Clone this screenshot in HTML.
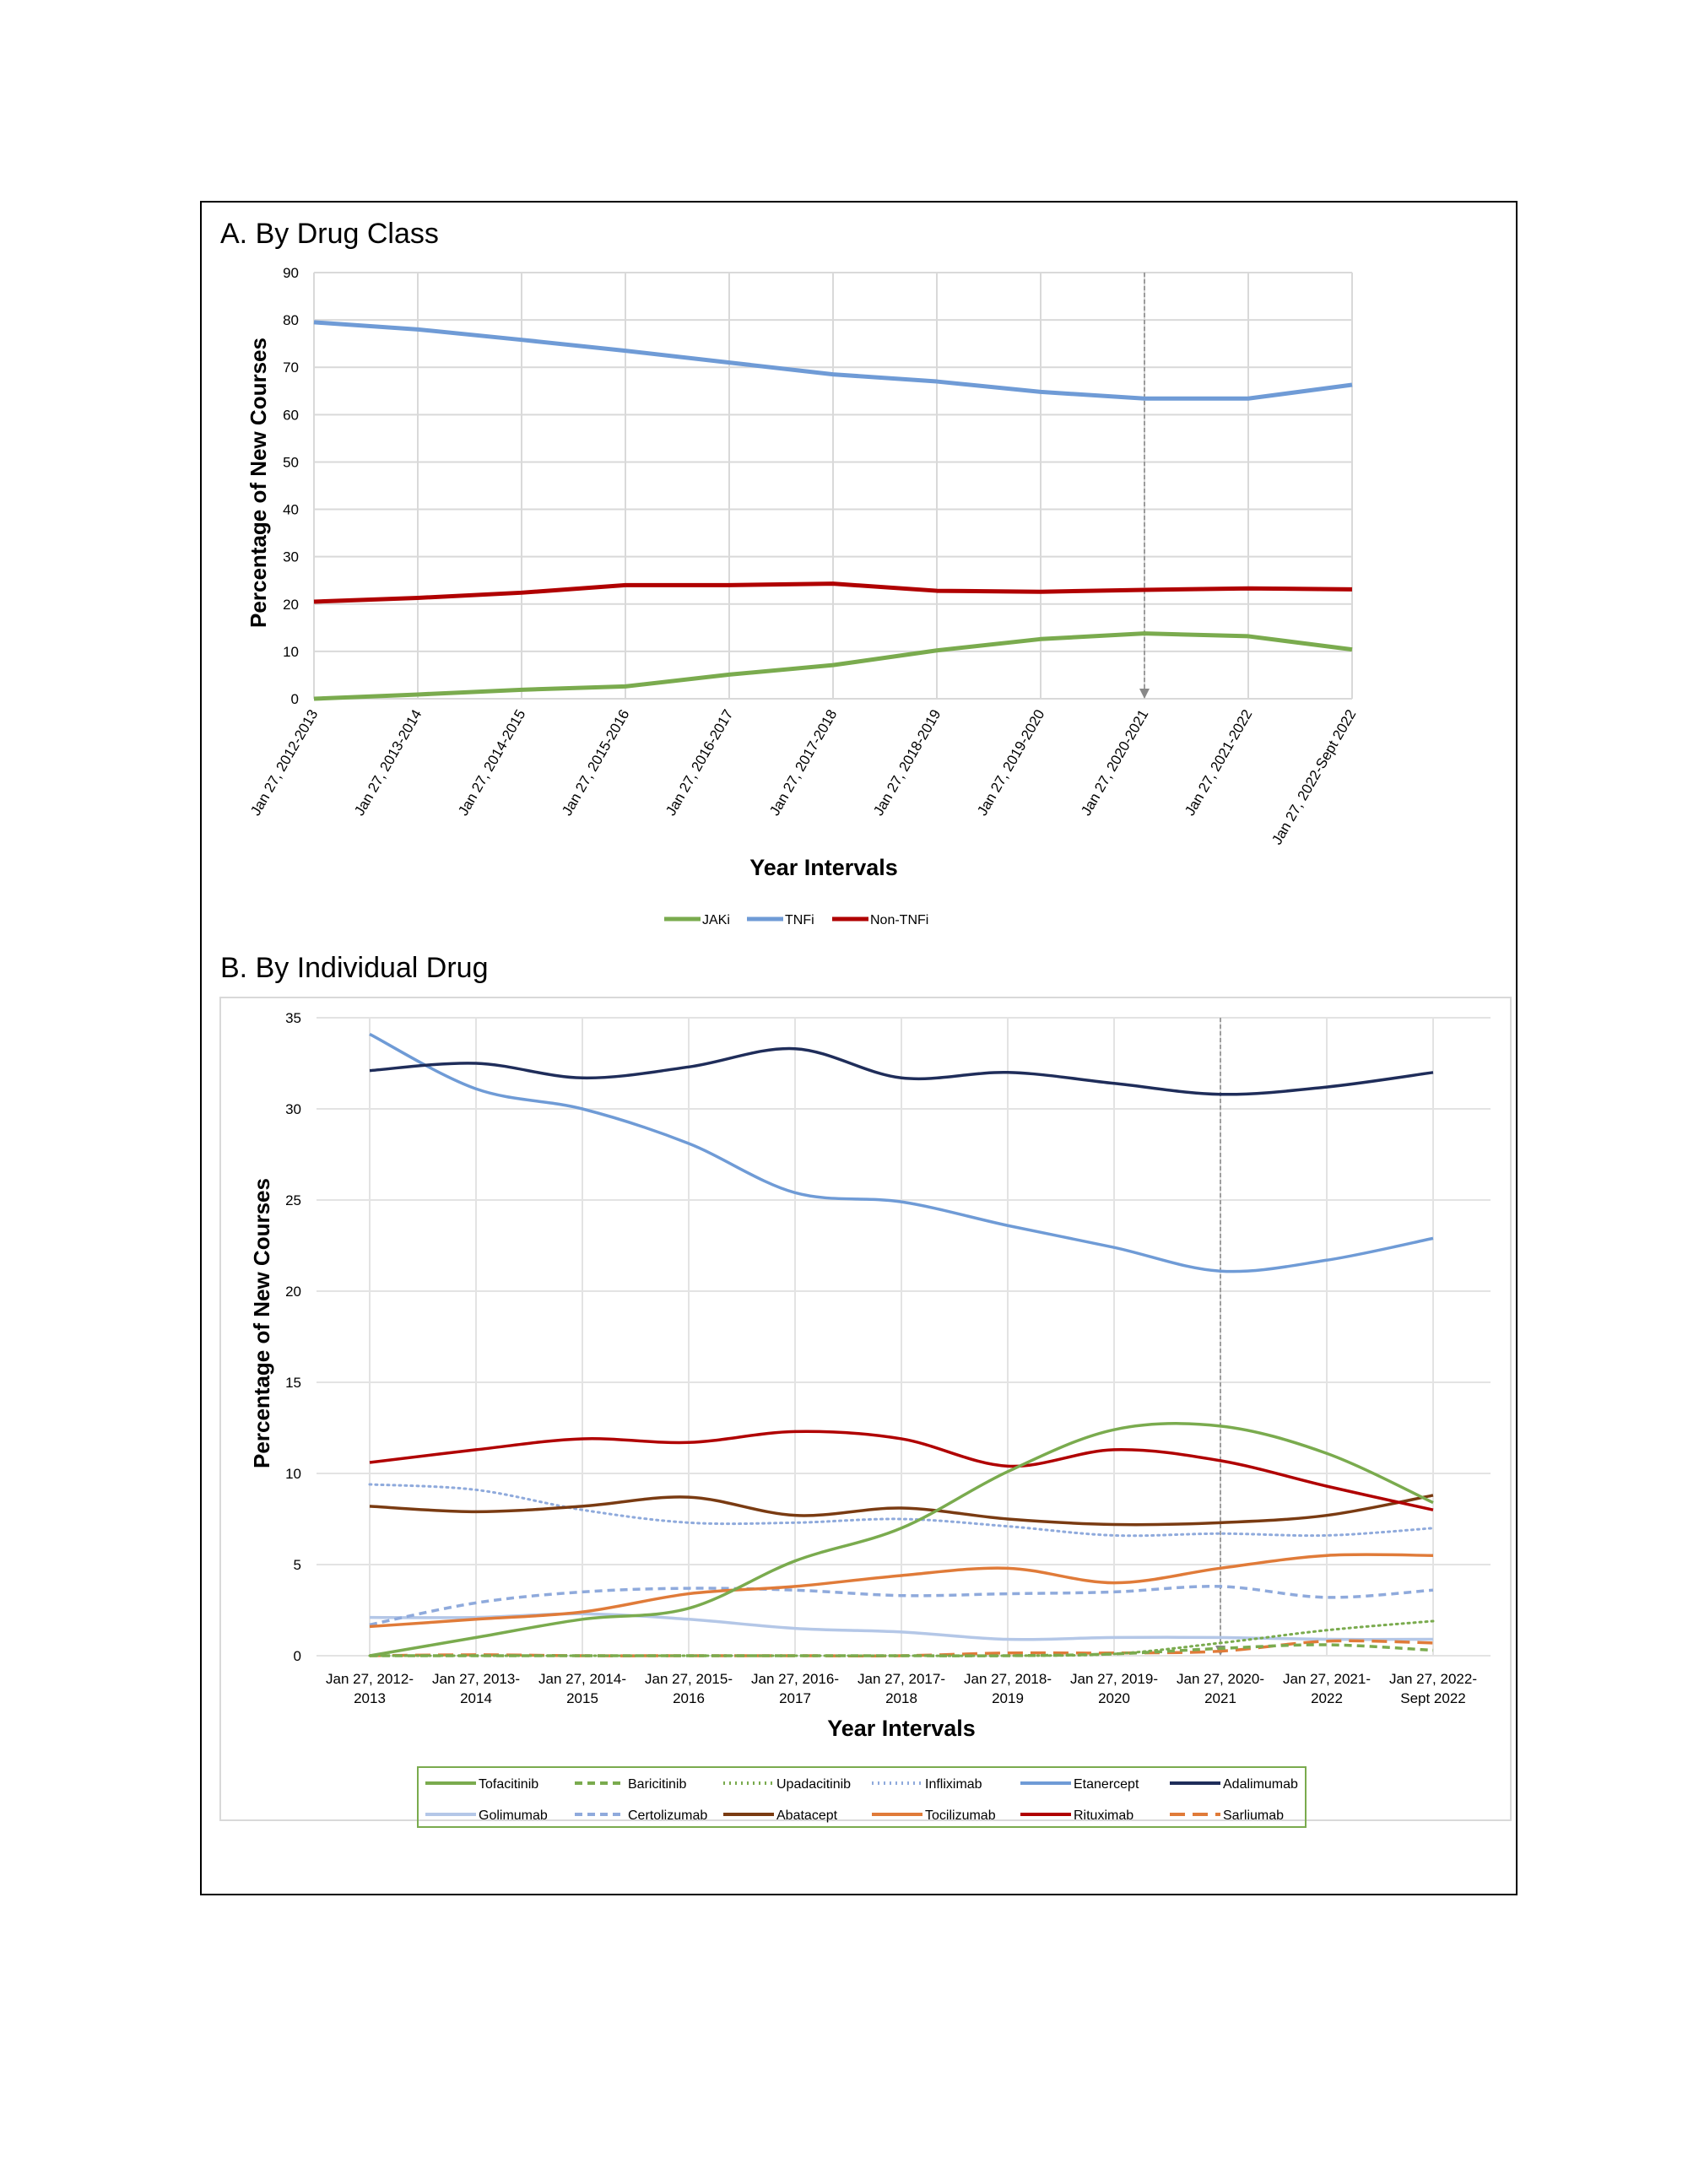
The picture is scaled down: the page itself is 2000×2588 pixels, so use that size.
<!DOCTYPE html>
<html><head><meta charset="utf-8"><style>
body{margin:0;background:#fff;}
svg{display:block;font-family:"Liberation Sans",sans-serif;}
</style></head><body>
<svg id="s" width="2000" height="2588" viewBox="0 0 2000 2588" xmlns="http://www.w3.org/2000/svg">
<rect x="238" y="239" width="1559" height="2006" fill="none" stroke="#000" stroke-width="2"/>
<text x="261" y="288" font-size="34">A. By Drug Class</text>
<text x="261" y="1158" font-size="34">B. By Individual Drug</text>
<rect x="261" y="1182" width="1529" height="975" fill="none" stroke="#d9d9d9" stroke-width="2"/>
<g id="ga"></g>
<g id="gb"></g>
</svg>
<script>
const catsA=["Jan 27, 2012-2013","Jan 27, 2013-2014","Jan 27, 2014-2015","Jan 27, 2015-2016","Jan 27, 2016-2017","Jan 27, 2017-2018","Jan 27, 2018-2019","Jan 27, 2019-2020","Jan 27, 2020-2021","Jan 27, 2021-2022","Jan 27, 2022-Sept 2022"];
const ticksA=[0,10,20,30,40,50,60,70,80,90];
const jaki=[0,0.9,1.9,2.6,5.1,7.1,10.2,12.6,13.8,13.2,10.4];
const tnfi=[79.5,78,75.8,73.5,71,68.5,67,64.8,63.4,63.4,66.3];
const nontnfi=[20.5,21.3,22.4,24,24,24.3,22.8,22.6,23,23.3,23.1];

const catsB1=["Jan 27, 2012-","Jan 27, 2013-","Jan 27, 2014-","Jan 27, 2015-","Jan 27, 2016-","Jan 27, 2017-","Jan 27, 2018-","Jan 27, 2019-","Jan 27, 2020-","Jan 27, 2021-","Jan 27, 2022-"];
const catsB2=["2013","2014","2015","2016","2017","2018","2019","2020","2021","2022","Sept 2022"];
const ticksB=[0,5,10,15,20,25,30,35];
const tofacitinib=[0,1.0,2.0,2.6,5.2,7.0,10.1,12.4,12.6,11.1,8.4];
const baricitinib=[0,0,0,0,0,0,0,0.1,0.4,0.6,0.3];
const upadacitinib=[0,0,0,0,0,0,0,0.1,0.7,1.4,1.9];
const infliximab=[9.4,9.1,8.0,7.3,7.3,7.5,7.1,6.6,6.7,6.6,7.0];
const etanercept=[34.1,31.1,30.0,28.1,25.4,24.9,23.6,22.4,21.1,21.7,22.9];
const adalimumab=[32.1,32.5,31.7,32.3,33.3,31.7,32.0,31.4,30.8,31.2,32.0];
const golimumab=[2.1,2.1,2.3,2.0,1.5,1.3,0.9,1.0,1.0,0.9,0.9];
const certolizumab=[1.7,2.9,3.5,3.7,3.6,3.3,3.4,3.5,3.8,3.2,3.6];
const abatacept=[8.2,7.9,8.2,8.7,7.7,8.1,7.5,7.2,7.3,7.7,8.8];
const tocilizumab=[1.6,2.0,2.4,3.4,3.8,4.4,4.8,4.0,4.8,5.5,5.5];
const rituximab=[10.6,11.3,11.9,11.7,12.3,11.9,10.4,11.3,10.7,9.3,8.0];
const sarilumab=[0,0.05,0,0,0,0,0.15,0.15,0.25,0.8,0.7];

const NS="http://www.w3.org/2000/svg";
function mk(tag,attrs,parent,txt){const e=document.createElementNS(NS,tag);for(const k in attrs)e.setAttribute(k,attrs[k]);if(txt!==undefined)e.textContent=txt;parent.appendChild(e);return e;}
function smooth(pts){let d="M"+pts[0][0]+","+pts[0][1];for(let i=0;i<pts.length-1;i++){const p0=pts[i-1]||pts[i],p1=pts[i],p2=pts[i+1],p3=pts[i+2]||p2;const t=6;d+=" C"+(p1[0]+(p2[0]-p0[0])/t)+","+(p1[1]+(p2[1]-p0[1])/t)+" "+(p2[0]-(p3[0]-p1[0])/t)+","+(p2[1]-(p3[1]-p1[1])/t)+" "+p2[0]+","+p2[1];}return d;}
function straight(pts){return "M"+pts.map(p=>p[0]+","+p[1]).join(" L");}

// ---- Chart A ----
const ga=document.getElementById('ga');
const ax=i=>372+i*123, ay=v=>828-v*(505/90);
ticksA.forEach(t=>{
 const l=mk('line',{x1:372,x2:1602,y1:ay(t),y2:ay(t),stroke:'#d9d9d9','stroke-width':2},ga);
 
 
 const tx=mk('text',{x:354,y:ay(t)+6,'font-size':17,'text-anchor':'end'},ga,t);
 
 
});
catsA.forEach((c,i)=>{
 const l=mk('line',{x1:ax(i),x2:ax(i),y1:ay(90),y2:ay(0),stroke:'#d9d9d9','stroke-width':2},ga);
 
 
 const tx=mk('text',{x:ax(i)+5,y:845,'font-size':17,'text-anchor':'end',transform:`rotate(-60 ${ax(i)+5} 845)`},ga,c);
 
 
});
{const v=mk('line',{x1:ax(8),x2:ax(8),y1:ay(90),y2:ay(0)-8,stroke:'#888','stroke-width':1.5,'stroke-dasharray':'5,3'},ga);
 
 
 const ar=mk('path',{d:`M${ax(8)-6},${ay(0)-12} L${ax(8)+6},${ay(0)-12} L${ax(8)},${ay(0)} Z`,fill:'#888'},ga);
 
 }
[[tnfi,'#6f9bd6','tnfi-line'],[nontnfi,'#b00000','non-tnfi-line'],[jaki,'#7aab4e','jaki-line']].forEach(([d,c,n])=>{
 const p=mk('path',{d:straight(d.map((v,i)=>[ax(i),ay(v)])),fill:'none',stroke:c,'stroke-width':5,'stroke-linejoin':'round'},ga);
 
 
});
{const y=mk('text',{x:0,y:0,'font-size':26,'font-weight':'bold','text-anchor':'middle',transform:'translate(315 572) rotate(-90)'},ga,'Percentage of New Courses');
 
 
 const x=mk('text',{x:976,y:1037,'font-size':27,'font-weight':'bold','text-anchor':'middle'},ga,'Year Intervals');
 
 }
[['JAKi','#7aab4e',787],['TNFi','#6f9bd6',885],['Non-TNFi','#b00000',986]].forEach(([t,c,x])=>{
 const g=mk('g',{},ga);
 
 
 mk('line',{x1:x,x2:x+43,y1:1089,y2:1089,stroke:c,'stroke-width':5},g);
 mk('text',{x:x+45,y:1095,'font-size':16},g,t);
});

// ---- Chart B ----
const gb=document.getElementById('gb');
const bx=i=>438+i*126, by=v=>1962-v*(756/35);
ticksB.forEach(t=>{
 const l=mk('line',{x1:375,x2:1766,y1:by(t),y2:by(t),stroke:'#e3e3e3','stroke-width':2},gb);
 
 
 const tx=mk('text',{x:357,y:by(t)+6,'font-size':17,'text-anchor':'end'},gb,t);
 
 
});
catsB1.forEach((c,i)=>{
 const l=mk('line',{x1:bx(i),x2:bx(i),y1:by(35),y2:by(0),stroke:'#e3e3e3','stroke-width':2},gb);
 
 
 const tx=mk('text',{x:bx(i),y:1995,'font-size':17,'text-anchor':'middle'},gb,c);
 
 
 const t2=mk('text',{x:bx(i),y:2018,'font-size':17,'text-anchor':'middle'},gb,catsB2[i]);
 
 
});
{const v=mk('line',{x1:bx(8),x2:bx(8),y1:by(35),y2:by(0)-8,stroke:'#888','stroke-width':1.5,'stroke-dasharray':'5,3'},gb);
 
 
 const ar=mk('path',{d:`M${bx(8)-6},${by(0)-12} L${bx(8)+6},${by(0)-12} L${bx(8)},${by(0)} Z`,fill:'#888'},gb);
 
 }
const seriesB=[
 ['Tofacitinib',tofacitinib,'#7aab4e',''],
 ['Baricitinib',baricitinib,'#7aab4e','9,6'],
 ['Upadacitinib',upadacitinib,'#7aab4e','2,5'],
 ['Infliximab',infliximab,'#8faadc','2,5'],
 ['Etanercept',etanercept,'#6f9bd6',''],
 ['Adalimumab',adalimumab,'#1f2d5a',''],
 ['Golimumab',golimumab,'#b4c7e7',''],
 ['Certolizumab',certolizumab,'#8faadc','9,6'],
 ['Abatacept',abatacept,'#7a3b12',''],
 ['Tocilizumab',tocilizumab,'#e07b39',''],
 ['Rituximab',rituximab,'#b00000',''],
 ['Sarliumab',sarilumab,'#e07b39','18,9']
];
const drawOrder=[6,7,3,8,9,10,11,1,2,0,4,5];
drawOrder.forEach(k=>{const [n,d,c,da]=seriesB[k];
 const p=mk('path',{d:smooth(d.map((v,i)=>[bx(i),by(v)])),fill:'none',stroke:c,'stroke-width':(da==='2,5'?3:3.5),'stroke-dasharray':da,'stroke-linecap':(da==='2,5'?'round':'butt')},gb);
 
 
});
{const y=mk('text',{x:0,y:0,'font-size':26,'font-weight':'bold','text-anchor':'middle',transform:'translate(319 1568) rotate(-90)'},gb,'Percentage of New Courses');
 
 
 const x=mk('text',{x:1068,y:2057,'font-size':27,'font-weight':'bold','text-anchor':'middle'},gb,'Year Intervals');
 
 
 const lb=mk('rect',{x:495,y:2094,width:1052,height:71,fill:'none',stroke:'#7aab4e','stroke-width':2},gb);
 
 }
const colX=[504,681,857,1033,1209,1386];
seriesB.forEach(([n,d,c,da],k)=>{
 const x=colX[k%6], y=k<6?2113:2150;
 const g=mk('g',{},gb);
 
 
 mk('line',{x1:x,x2:x+60,y1:y,y2:y,stroke:c,'stroke-width':4,'stroke-dasharray':da},g);
 mk('text',{x:x+63,y:y+6,'font-size':16},g,n);
});
</script>
</body></html>
